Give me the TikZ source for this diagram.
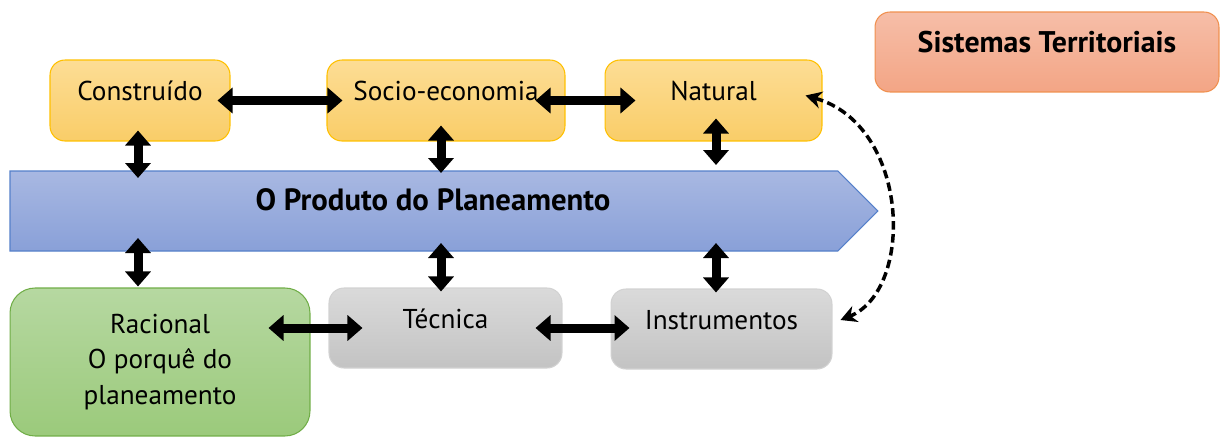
\documentclass[tikz,border=0pt]{standalone}
\usepackage{fontspec}
\setmainfont{PT Sans}
\usetikzlibrary{arrows.meta,shapes.arrows}

\definecolor{ambarTop}{HTML}{FDDD95}
\definecolor{ambarBot}{HTML}{F9CD68}
\definecolor{ambarLine}{HTML}{FFC000}
\definecolor{salmaoTop}{HTML}{F6BEA8}
\definecolor{salmaoBot}{HTML}{F3A585}
\definecolor{salmaoLine}{HTML}{F0904F}
\definecolor{azulTop}{HTML}{A8B8E2}
\definecolor{azulBot}{HTML}{89A0D8}
\definecolor{azulLine}{HTML}{5580CA}
\definecolor{verdeTop}{HTML}{B6D8A1}
\definecolor{verdeBot}{HTML}{9BCA7B}
\definecolor{verdeLine}{HTML}{70AD47}
\definecolor{cinzaTop}{HTML}{DADADA}
\definecolor{cinzaBot}{HTML}{C3C3C3}
\definecolor{cinzaLine}{HTML}{D2D2D2}

\tikzset{
  caixa/.style={rounded corners=0.3cm, line width=0.6pt, inner sep=0pt,
    minimum height=1.62cm, text height=1em, text depth=1em,
    font=\fontsize{15.5}{20}\selectfont},
  ambar/.style={caixa, draw=ambarLine, top color=ambarTop, bottom color=ambarBot},
  cinza/.style={caixa, draw=cinzaLine, top color=cinzaTop, bottom color=cinzaBot},
  dblarrow/.style={line width=0.18cm,
    arrows={Triangle[width=0.5cm,length=0.3cm]-Triangle[width=0.5cm,length=0.3cm]}},
  dasharrow/.style={line width=0.07cm, dash pattern=on 0.17cm off 0.09cm,
    arrows={Stealth[width=0.34cm,length=0.32cm]-Stealth[width=0.34cm,length=0.32cm]}}
}

\begin{document}
\begin{tikzpicture}[x=0.02cm,y=-0.02cm]
  \useasboundingbox (0,0) rectangle (1221,437);

  % sistemas
  \node[ambar, minimum width=3.6cm] (construido) at (140,100.5) {Construído};
  \node[ambar, minimum width=4.76cm] (socio) at (446,100.5) {Socio-economia};
  \node[ambar, minimum width=4.34cm] (natural) at (713.5,100.5) {Natural};

  \node[caixa, draw=salmaoLine, top color=salmaoTop, bottom color=salmaoBot,
        minimum width=6.88cm, minimum height=1.6cm, font=\fontsize{17}{20}\selectfont\bfseries]
        (sistemas) at (1047,52) {Sistemas Territoriais};

  % produto
  \node[single arrow, single arrow head extend=0pt, single arrow tip angle=90,
        minimum height=17.36cm, minimum width=1.6cm, inner sep=0pt, outer sep=0pt,
        draw=azulLine, line width=0.6pt, top color=azulTop, bottom color=azulBot,
        anchor=tail] (produto) at (10,211) {};
  \node[font=\fontsize{17.5}{20}\selectfont\bfseries] (produtotxt) at (433,200)
        {O Produto do Planeamento};

  % planeamento
  \node[caixa, rounded corners=0.5cm, draw=verdeLine, top color=verdeTop,
        bottom color=verdeBot, minimum width=6cm, minimum height=2.96cm,
        text height=, text depth=, align=center] (racional) at (160,362)
        {Racional\\O porquê do\\planeamento};
  \node[cinza, minimum width=4.66cm, minimum height=1.6cm] (tecnica) at (445.5,328) {Técnica};
  \node[cinza, minimum width=4.42cm, minimum height=1.6cm] (instrumentos) at (721.5,329) {Instrumentos};

  % ligacoes
  \draw[dblarrow, shorten <=-0.26cm, shorten >=-0.32cm] (construido.east) -- (socio.west);
  \draw[dblarrow, shorten <=-0.6cm, shorten >=-0.62cm] (socio.east) -- (natural.west);
  \draw[dblarrow, shorten <=-0.84cm, shorten >=-0.68cm] (racional.east |- tecnica.west) -- (tecnica.west);
  \draw[dblarrow, shorten <=-0.54cm, shorten >=-0.38cm] (tecnica.east) -- (tecnica.east -| instrumentos.west);

  \draw[dblarrow, shorten <=-0.22cm, shorten >=-0.14cm]
    ([xshift=-0.04cm]construido.south) -- ([xshift=-0.04cm]construido.south |- produto.north);
  \draw[dblarrow, shorten <=-0.32cm, shorten >=-0.04cm]
    ([xshift=-0.1cm]socio.south) -- ([xshift=-0.1cm]socio.south |- produto.north);
  \draw[dblarrow, shorten <=-0.46cm, shorten >=0.12cm]
    ([xshift=0.05cm]natural.south) -- ([xshift=0.05cm]natural.south |- produto.north);

  \draw[dblarrow, shorten <=-0.26cm, shorten >=0.02cm]
    ([xshift=-0.04cm]construido.south |- produto.south) -- ([xshift=-0.04cm]construido.south |- racional.north);
  \draw[dblarrow, shorten <=-0.16cm, shorten >=-0.08cm]
    ([xshift=-0.09cm]tecnica.north |- produto.south) -- ([xshift=-0.09cm]tecnica.north);
  \draw[dblarrow, shorten <=-0.16cm, shorten >=-0.08cm]
    ([xshift=-0.11cm]instrumentos.north |- produto.south) -- ([xshift=-0.11cm]instrumentos.north);

  \draw[dasharrow] ([shift={(-17,-5)}]natural.east)
    .. controls (910,125) and (915,290) .. ([shift={(8,-9)}]instrumentos.east);
\end{tikzpicture}
\end{document}
